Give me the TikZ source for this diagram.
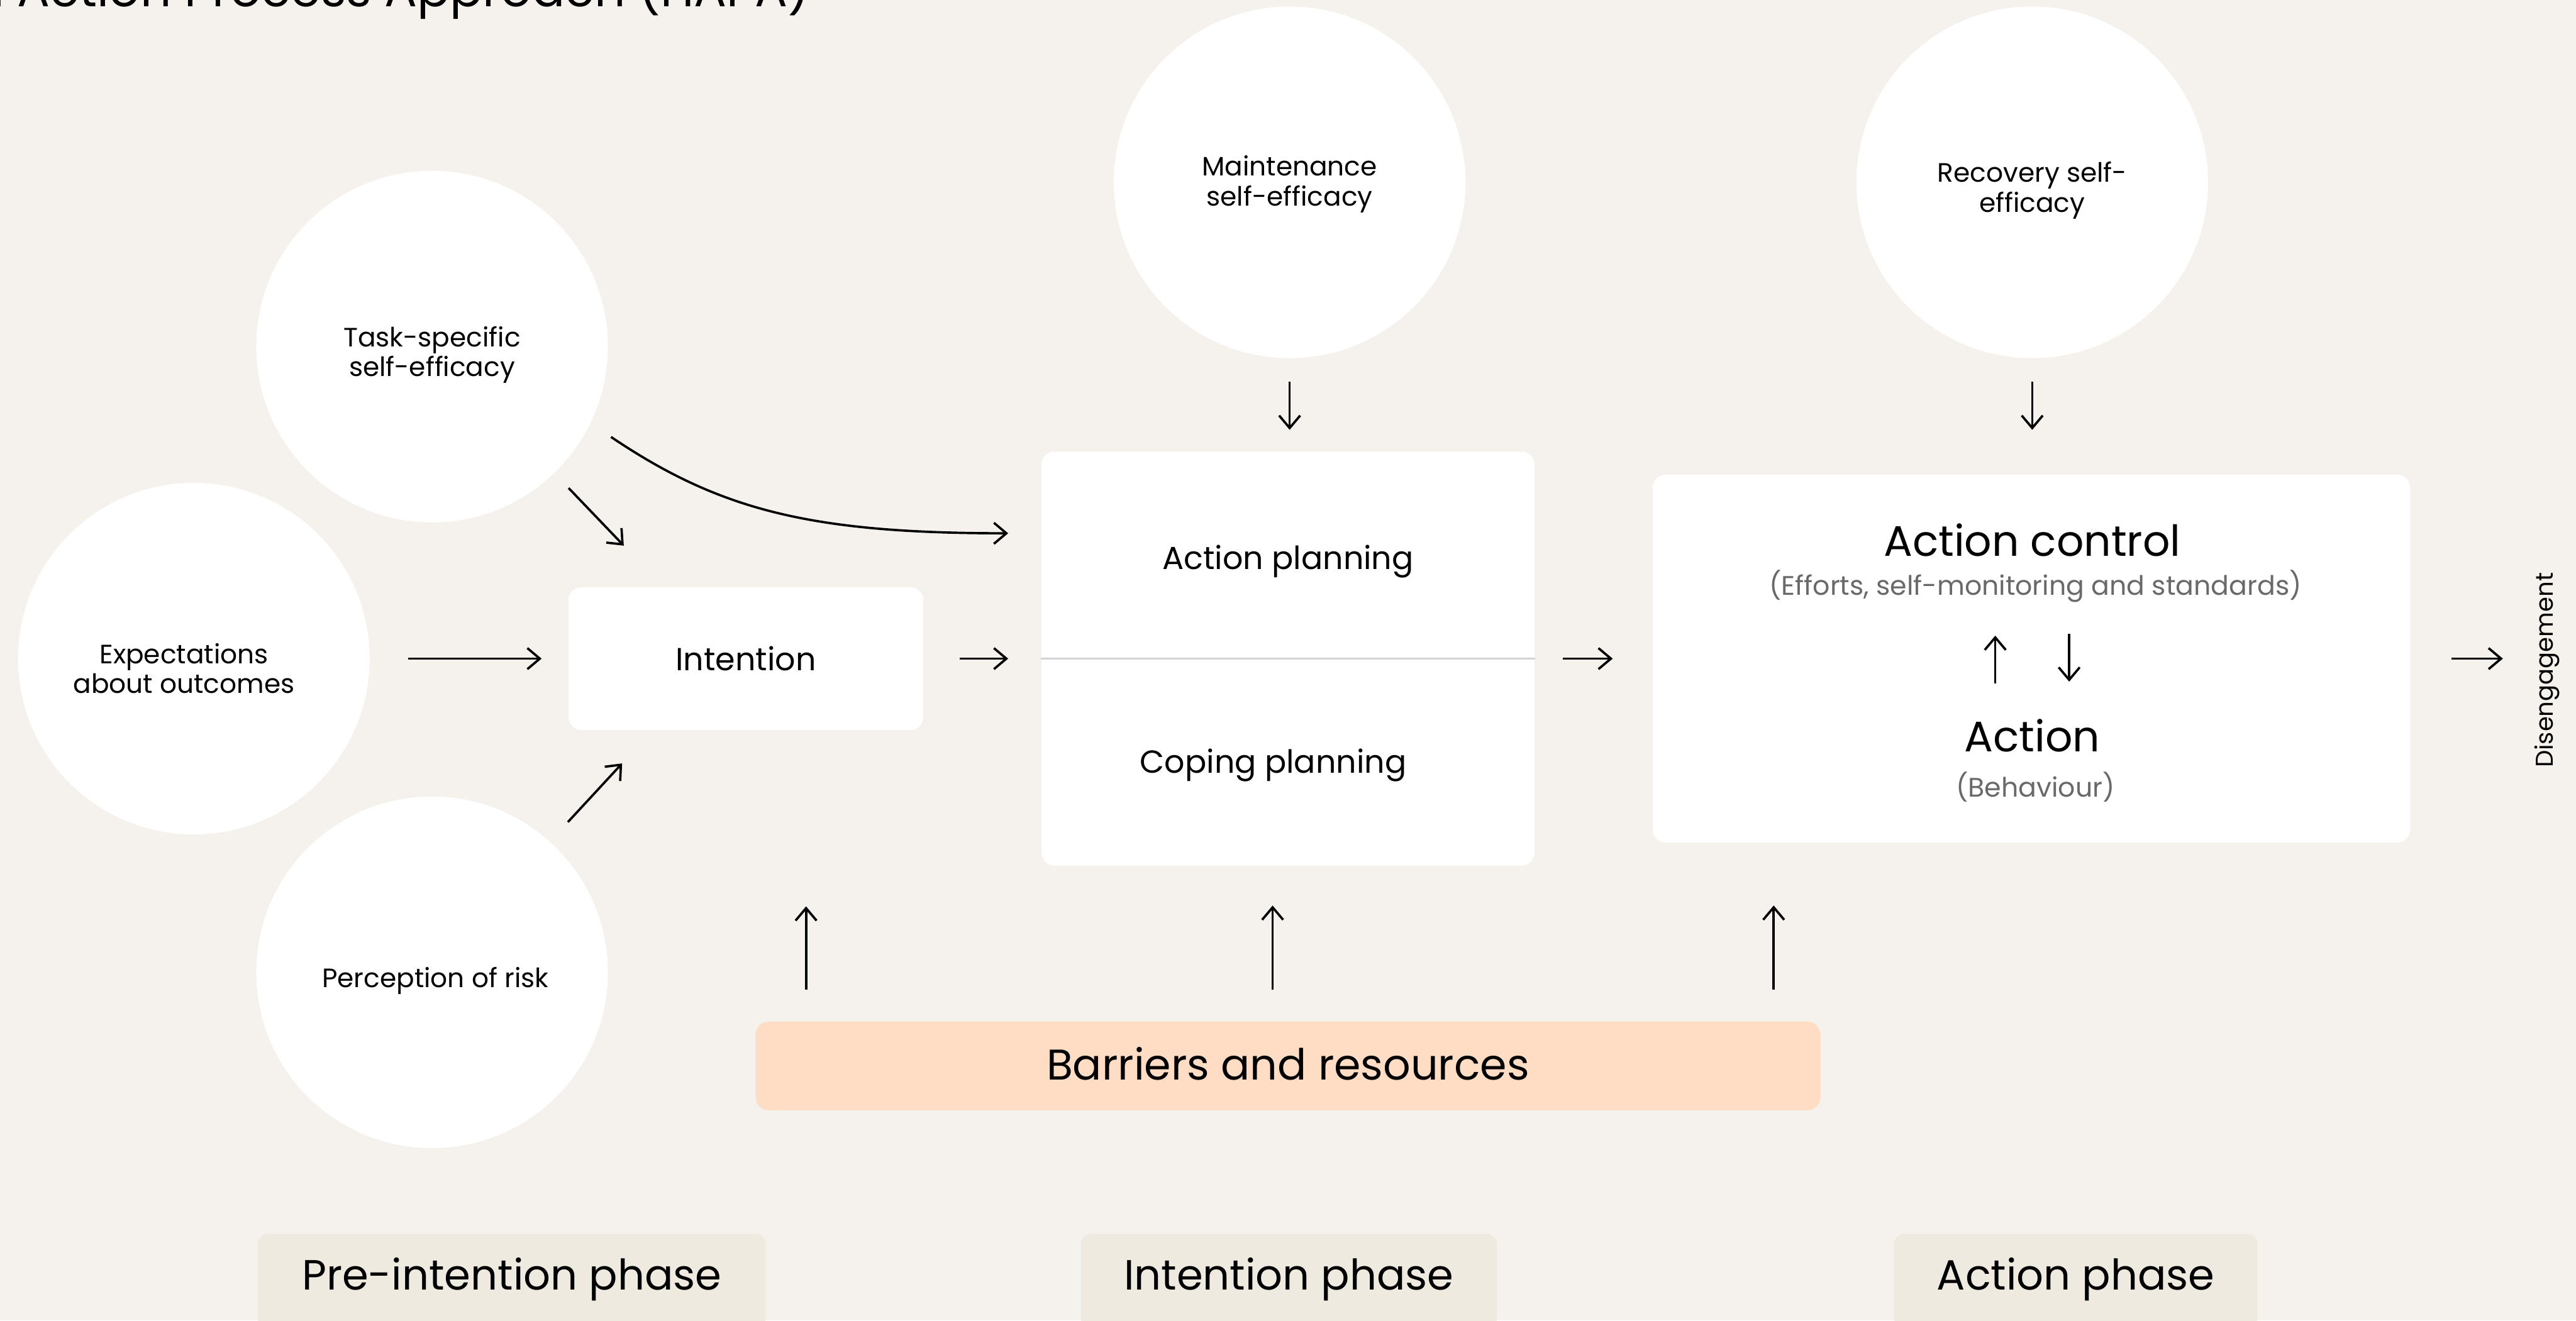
\documentclass[tikz,border=0pt]{standalone}
\usepackage{fontspec}
\setmainfont{Poppins}
\usetikzlibrary{arrows.meta,positioning,calc}
\definecolor{paper}{RGB}{245,242,237}
\definecolor{peach}{RGB}{255,221,196}
\definecolor{sand}{RGB}{238,234,223}
\definecolor{grey}{RGB}{105,105,105}
\definecolor{rule}{RGB}{212,212,212}
\colorlet{barriercol}{peach}
\colorlet{phasecol}{sand}
\tikzset{>={Straight Barb[length=1.9mm,width=3.2mm]}}
\tikzset{
  factor/.style={circle,fill=white,minimum size=5.35cm,inner sep=0pt},
  factortext/.style={inner sep=0pt,align=center,font=\fontsize{11.5}{13}\selectfont},
  stage/.style={rectangle,fill=white,rounded corners=0.2cm,inner sep=0pt},
  midtext/.style={inner sep=0pt,font=\fontsize{13.8}{16}\selectfont},
  bigtext/.style={inner sep=0pt,font=\fontsize{18.5}{21}\selectfont},
  subtext/.style={inner sep=0pt,text=grey,font=\fontsize{11.6}{13}\selectfont},
  phasebox/.style={rectangle,fill=phasecol,rounded corners=0.15cm,anchor=north,inner ysep=0pt,text height=0.85cm,text depth=0.6cm,font=\fontsize{18.3}{21}\selectfont},
  arr/.style={->,line width=1pt},
}
\begin{document}
\begin{tikzpicture}[x=0.025cm,y=-0.025cm]
    \useasboundingbox[fill=paper] (0,0) rectangle (1568,804);
    \node[anchor=base east,inner sep=0pt,font=\fontsize{21}{24}\selectfont] at (493,4) (title) {Health Action Process Approach (HAPA)};
    % pre-intention factors
    \node[factor] at (263,211) (task) {};
    \node[factortext] at (263,216) (tasklabel) {Task-specific\\self-efficacy};
    \node[factor] at (118,401) (expect) {};
    \node[factortext] at (112,407) (expectlabel) {Expectations\\about outcomes};
    \node[factor] at (263,592) (risk) {};
    \node[factortext] at (265,597) (risklabel) {Perception of risk};
    \node[stage,minimum width=5.4cm,minimum height=2.175cm,font=\fontsize{13.8}{16}\selectfont] at (454,401) (intent) {Intention};
    \draw [arr,shorten <=0.31cm] (task.-46) -- ($(intent.north west)+(34,-25)$);
    \draw [arr,shorten <=0.575cm,shorten >=0.4cm] (expect) -- (intent);
    \draw [arr,shorten <=0.4cm] (risk.48) -- ($(intent.south west)+(33,20)$);
    % planning
    \node[factor] at (785,111) (maint) {};
    \node[factortext] at (785,112) (maintlabel) {Maintenance\\self-efficacy};
    \node[stage,minimum width=7.5cm,minimum height=6.3cm] at (784,401) (plan) {};
    \draw [rule,line width=0.6pt] (plan.west) -- (plan.east);
    \node[midtext] at (784,342) (actplan) {Action planning};
    \node[midtext] at (775,466) (copeplan) {Coping planning};
    \draw [arr] ($(task.center)+(-26.8:3.05cm)$) .. controls +(-34:2cm) and +(180:3cm) .. ($(plan.north west)+(-20,50)$);
    \draw [arr,shorten <=0.55cm,shorten >=0.5cm] (intent.east) -- (intent.east -| plan.west);
    \draw [arr,shorten <=0.35cm,shorten >=0.325cm] (maint.south) -- (maint.south |- plan.north);
    % action
    \node[factor] at (1237,111) (recov) {};
    \node[factortext] at (1237,116) (recovlabel) {Recovery self-\\efficacy};
    \node[stage,minimum width=11.525cm,minimum height=5.6cm] at (1236.5,401) (ctrl) {};
    \node[bigtext] at (1237,329) (actctrl) {Action control};
    \node[subtext] at (1239,357) (efforts) {(Efforts, self-monitoring and standards)};
    \node[bigtext] at (1237,448) (action) {Action};
    \node[subtext] at (1239,479) (behav) {(Behaviour)};
    \draw [arr] ($(ctrl.center)+(-22,15)$) -- ($(ctrl.center)+(-22,-14)$);
    \draw [arr] ($(ctrl.center)+(23,-15)$) -- ($(ctrl.center)+(23,14)$);
    \draw [arr,shorten <=0.35cm,shorten >=0.675cm] (recov.south) -- (recov.south |- ctrl.north);
    \draw [arr,shorten <=0.425cm,shorten >=0.6cm] (plan.east) -- (plan.east -| ctrl.west);
    \node[rotate=90,anchor=base,inner sep=0pt,font=\fontsize{10.5}{12}\selectfont] at (1554,408) (diseng) {Disengagement};
    \draw [arr,shorten <=0.625cm,shorten >=0.475cm] (ctrl.east) -- (ctrl.east -| diseng.north);
    % barriers and resources
    \node[rectangle,fill=barriercol,rounded corners=0.2cm,minimum width=16.2cm,minimum height=1.35cm,font=\fontsize{18.6}{22}\selectfont] at (784,649) (barr) {\raisebox{2pt}{Barriers and resources}};
    \coordinate (barrA) at ($(barr.north west)+(31,0)$);
    \coordinate (barrB) at ($(barr.north west)+(315,0)$);
    \coordinate (barrC) at ($(barr.north west)+(620,0)$);
    \draw [arr,shorten <=0.475cm,shorten >=2.675cm] (barrA) -- (barrA |- intent.south);
    \draw [arr,shorten <=0.475cm,shorten >=0.6cm] (barrB) -- (barrB |- plan.south);
    \draw [arr,shorten <=0.475cm,shorten >=0.95cm] (barrC) -- (barrC |- ctrl.south);
    % phases
    \node[phasebox,minimum width=7.725cm] at (311.5,751) (prephase) {Pre-intention phase};
    \node[phasebox,minimum width=6.325cm] at (784.5,751) (intphase) {Intention phase};
    \node[phasebox,minimum width=5.525cm] at (1263.5,751) (actphase) {Action phase};
\end{tikzpicture}
\end{document}
